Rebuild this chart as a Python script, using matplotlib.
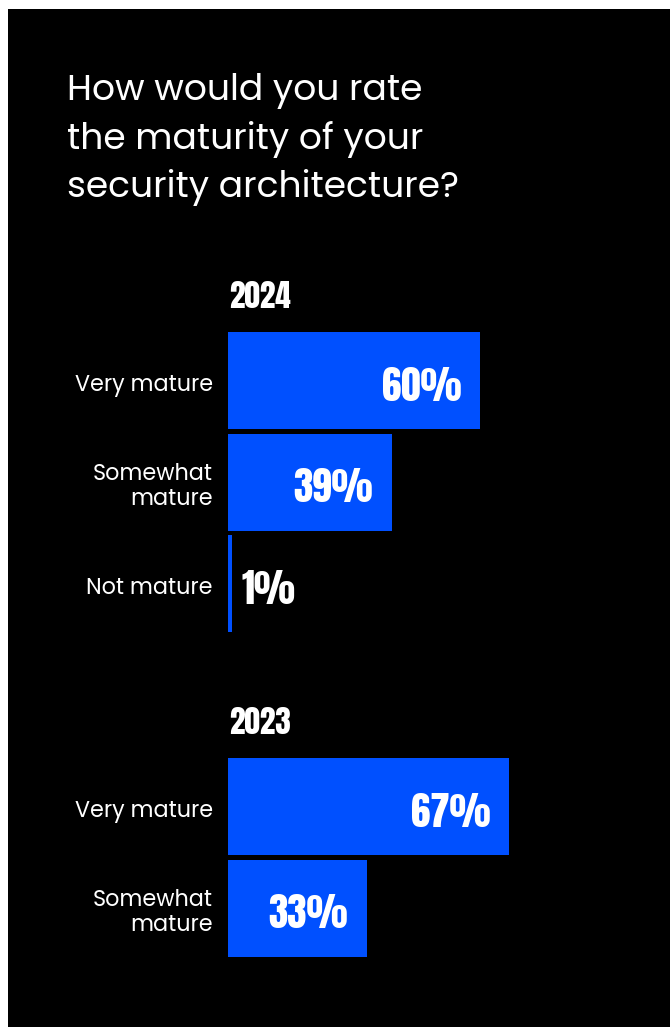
import matplotlib
matplotlib.use("Agg")
import os
import matplotlib.pyplot as plt
from matplotlib import font_manager
from matplotlib.font_manager import FontProperties

# ---- data ----
title_lines = ["How would you rate", "the maturity of your", "security architecture?"]
years = ["2024", "2023"]
cats_2024 = ["Very mature", "Somewhat\nmature", "Not mature"]
vals_2024 = [60, 39, 1]
cats_2023 = ["Very mature", "Somewhat\nmature"]
vals_2023 = [67, 33]

W, H = 670, 1027
DPI = 100
BLUE = "#0050FF"


def find_font(family):
    cands = [f for f in font_manager.fontManager.ttflist if f.name == family]
    for f in cands:
        base = os.path.basename(f.fname).lower()
        if "regular" in base and "italic" not in base:
            return f.fname
    return cands[0].fname if cands else None


anton = find_font("Anton")
LAB_FAMILY = ["Poppins", "Open Sans", "DejaVu Sans"]


def lab_fp(size):
    return FontProperties(family=LAB_FAMILY, size=size, weight="normal")


def num_fp(size):
    if anton:
        return FontProperties(fname=anton, size=size)
    return FontProperties(family=["Oswald", "DejaVu Sans"], size=size, weight="bold")


fig = plt.figure(figsize=(W / DPI, H / DPI), dpi=DPI)
fig.patch.set_facecolor("white")

bg = fig.add_axes([8 / W, 0, (W - 8) / W, (H - 9) / H])
bg.set_facecolor("black")
bg.set_xticks([]); bg.set_yticks([])
for s in bg.spines.values():
    s.set_visible(False)

left_px = 228
px_per_pct = 4.2
ax = fig.add_axes([left_px / W, 0, (W - left_px) / W, 1])
ax.set_xlim(0, (W - left_px) / px_per_pct)
ax.set_ylim(H, 0)
ax.axis("off")
ax.patch.set_alpha(0)

row_step = 101.5
bar_h = 97
groups = [(years[0], cats_2024, vals_2024, 380.5, 297),
          (years[1], cats_2023, vals_2023, 806.5, 722)]

for year, cats, vals, y0, ylab in groups:
    ys = [y0 + i * row_step for i in range(len(vals))]
    ax.barh(ys, vals, height=bar_h, color=BLUE, left=0)
    ax.text(0.2, ylab, year, fontproperties=num_fp(22.5), va="center", ha="left", color="white")
    for y, c, v in zip(ys, cats, vals):
        fig.text(213 / W, 1 - (y + 5) / H, c, ha="right", va="center", color="white",
                 fontproperties=lab_fp(16), linespacing=1.12)
        if v >= 10:
            ax.text(v - 4.5, y + 6, f"{v}%", ha="right", va="center", color="white",
                    fontproperties=num_fp(28))
        else:
            ax.text(v + 2.3, y + 6, f"{v}%", ha="left", va="center", color="white",
                    fontproperties=num_fp(28))

for i, line in enumerate(title_lines):
    fig.text(67 / W, 1 - (91 + i * 48) / H, line, ha="left", va="center",
             color="white", fontproperties=lab_fp(26))

fig.savefig("out.png", dpi=DPI, facecolor=fig.get_facecolor())
